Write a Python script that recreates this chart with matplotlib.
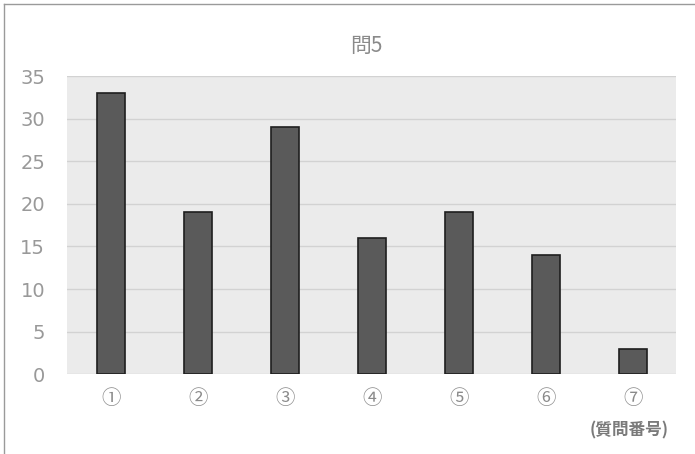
import numpy as np
import matplotlib.pyplot as plt

plt.rcParams['font.family'] = ['Noto Sans CJK JP', 'DejaVu Sans']

questions = ['①', '②', '③', '④', '⑤', '⑥', '⑦']
counts = [33, 19, 29, 16, 19, 14, 3]
y_ticks = [0, 5, 10, 15, 20, 25, 30, 35]

fig = plt.figure(figsize=(6.95, 4.54), dpi=100)
ax = fig.add_axes([0.097, 0.176, 0.876, 0.656])

x = np.arange(len(questions))
ax.bar(x, counts, width=0.32, color='#5a5a5a', edgecolor='#1e1e1e', linewidth=1.2, zorder=3)

ax.set_facecolor('#ebebeb')
ax.set_xlim(-0.5, len(questions) - 0.5)
ax.set_ylim(0, 35)
ax.set_yticks(y_ticks)
ax.set_yticklabels([str(v) for v in y_ticks], family='DejaVu Sans', fontsize=14)
ax.yaxis.grid(True, color='#d2d2d2', linewidth=1.0, zorder=1)
ax.set_xticks(x)
ax.set_xticklabels(questions, fontsize=14, color='#8a8a8a')
ax.tick_params(axis='y', colors='#999999', length=0, pad=16)
ax.tick_params(axis='x', length=0, pad=10)
for side in ['top', 'right', 'left', 'bottom']:
    ax.spines[side].set_visible(False)

fig.text(0.527, 0.898, '問5', ha='center', va='center', fontsize=15, color='#8a8a8a')
fig.text(0.905, 0.052, '(質問番号)', ha='center', va='center', fontsize=12,
         color='#7a7a7a', fontweight='bold')

# outer frame edges
fig.add_artist(plt.Line2D([0.006, 1.0], [0.991, 0.991], color='#9a9a9a', linewidth=1))
fig.add_artist(plt.Line2D([0.006, 0.006], [0.0, 0.991], color='#9a9a9a', linewidth=1))

fig.savefig('out.png', dpi=100)
